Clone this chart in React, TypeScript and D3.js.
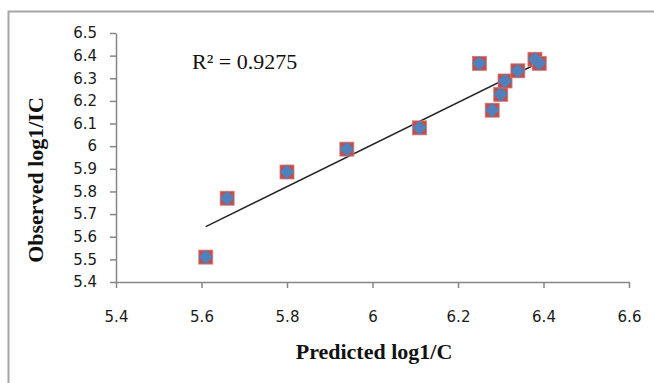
import { useRef, useEffect } from "react";
import * as d3 from "d3";

const predicted = [5.61, 5.66, 5.8, 5.94, 6.11, 6.25, 6.28, 6.3, 6.31, 6.34, 6.38, 6.39];
const observed = [5.51, 5.77, 5.886, 5.987, 6.081, 6.366, 6.159, 6.229, 6.288, 6.333, 6.384, 6.366];
const xTicks = [5.4, 5.6, 5.8, 6, 6.2, 6.4, 6.6];
const yTicks = [5.4, 5.5, 5.6, 5.7, 5.8, 5.9, 6, 6.1, 6.2, 6.3, 6.4, 6.5];
const rSquaredLabel = "R² = 0.9275";

export default function App() {
  const svgRef = useRef<SVGSVGElement>(null);

  useEffect(() => {
    const width = 654;
    const height = 383;
    const margin = { top: 33, right: 25, bottom: 101, left: 116 };

    const svg = d3.select(svgRef.current);
    svg.selectAll("*").remove();

    // outer chart frame (only top and left edges are visible in the crop)
    svg
      .append("path")
      .attr("d", `M8.5,${height}V11.5H${width}`)
      .attr("fill", "none")
      .attr("stroke", "#a6a6a6")
      .attr("stroke-width", 2);

    const x = d3
      .scaleLinear()
      .domain([5.4, 6.6])
      .range([margin.left, width - margin.right]);

    const y = d3
      .scaleLinear()
      .domain([5.4, 6.5])
      .range([height - margin.bottom, margin.top]);

    const xAxis = svg
      .append("g")
      .attr("transform", `translate(0,${height - margin.bottom})`)
      .call(
        d3
          .axisBottom(x)
          .tickValues(xTicks)
          .tickSize(6)
          .tickSizeOuter(0)
          .tickPadding(23)
          .tickFormat((d) => d3.format("")(+d)),
      );

    const yAxis = svg
      .append("g")
      .attr("transform", `translate(${margin.left},0)`)
      .call(
        d3
          .axisLeft(y)
          .tickValues(yTicks)
          .tickSize(6)
          .tickSizeOuter(0)
          .tickPadding(13)
          .tickFormat((d) => d3.format("")(+d)),
      );

    [xAxis, yAxis].forEach((g) => {
      g.select(".domain").attr("stroke", "#868686").attr("stroke-width", 1.5);
      g.selectAll(".tick line").attr("stroke", "#868686").attr("stroke-width", 1.5);
      g.selectAll(".tick text")
        .attr("fill", "#1a1a1a")
        .style("font-family", "'DejaVu Sans', sans-serif")
        .style("font-size", "15px");
    });

    // linear trendline (least squares of observed on predicted)
    const mx = d3.mean(predicted) as number;
    const my = d3.mean(observed) as number;
    const sxy = d3.sum(predicted, (p, i) => (p - mx) * (observed[i] - my));
    const sxx = d3.sum(predicted, (p) => (p - mx) ** 2);
    const slope = sxy / sxx;
    const intercept = my - slope * mx;
    const [x0, x1] = d3.extent(predicted) as [number, number];

    svg
      .append("line")
      .attr("x1", x(x0))
      .attr("y1", y(intercept + slope * x0))
      .attr("x2", x(x1))
      .attr("y2", y(intercept + slope * x1))
      .attr("stroke", "#262626")
      .attr("stroke-width", 1.5);

    const points = predicted.map((p, i) => ({ p, o: observed[i] }));

    svg
      .append("g")
      .selectAll("rect")
      .data(points)
      .join("rect")
      .attr("x", (d) => x(d.p) - 7)
      .attr("y", (d) => y(d.o) - 7)
      .attr("width", 14)
      .attr("height", 14)
      .attr("fill", "#c0504d")
      .attr("stroke", "#d07a78")
      .attr("stroke-width", 0.8);

    const diamond = d3.symbol().type(d3.symbolDiamond2).size(130);
    svg
      .append("g")
      .selectAll("path")
      .data(points)
      .join("path")
      .attr("transform", (d) => `translate(${x(d.p)},${y(d.o)})`)
      .attr("d", diamond)
      .attr("fill", "#4f81bd");

    svg
      .append("text")
      .attr("x", 192)
      .attr("y", 69)
      .style("font-family", "'Liberation Serif', serif")
      .style("font-size", "22px")
      .attr("fill", "#111")
      .text(rSquaredLabel);

    svg
      .append("text")
      .attr("x", 374)
      .attr("y", 359)
      .attr("text-anchor", "middle")
      .style("font-family", "'Liberation Serif', serif")
      .style("font-size", "22px")
      .style("font-weight", "bold")
      .attr("fill", "#111")
      .text("Predicted log1/C");

    svg
      .append("text")
      .attr("transform", "translate(43,180) rotate(-90)")
      .attr("text-anchor", "middle")
      .style("font-family", "'Liberation Serif', serif")
      .style("font-size", "22px")
      .style("font-weight", "bold")
      .attr("fill", "#111")
      .text("Observed log1/IC");
  }, []);

  return (
    <svg
      ref={svgRef}
      width={654}
      height={383}
      style={{ position: "absolute", left: 0, top: 0, background: "#fff" }}
    />
  );
}
